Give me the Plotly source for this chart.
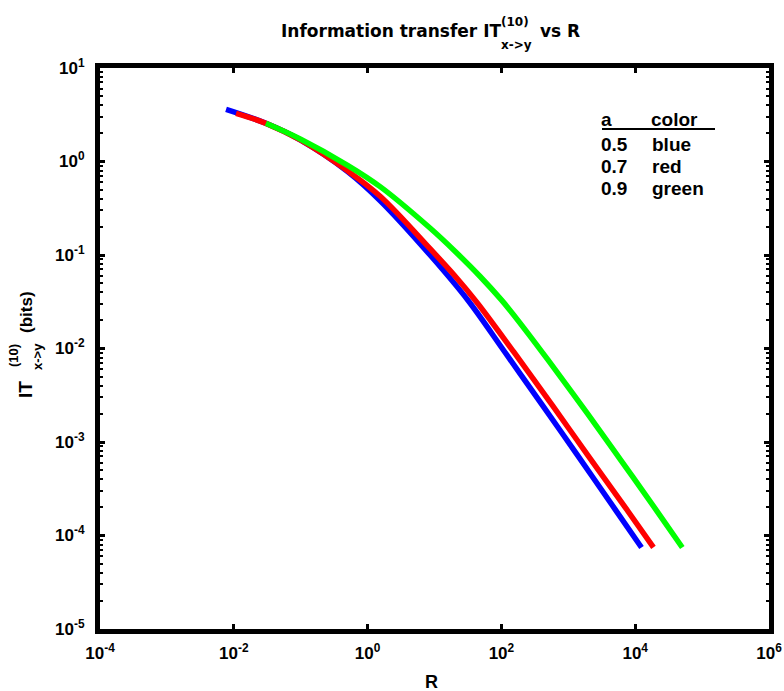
import plotly.graph_objects as go

# Information transfer curves for three values of the parameter a
a_values = [0.5, 0.7, 0.9]
color_names = ["blue", "red", "green"]
line_colors = ["#0000FF", "#FF0000", "#00FF00"]

R_a05 = [0.00766, 0.0302, 0.1, 0.502, 1.556, 8.65, 31.8, 113, 417, 1337, 4920, 12420]
IT_a05 = [3.61, 2.56, 1.69, 0.780, 0.378, 0.0993, 0.0326, 0.00912, 0.00243, 0.000741, 0.000194, 0.0000745]

R_a07 = [0.0108, 0.0302, 0.1, 0.502, 1.556, 8.65, 19.95, 43.4, 154, 586, 1950, 7413, 18750]
IT_a07 = [3.27, 2.56, 1.69, 0.794, 0.422, 0.116, 0.0603, 0.0309, 0.00912, 0.00243, 0.000724, 0.000191, 0.0000745]

R_a09 = [0.0302, 0.1, 0.502, 1.556, 8.65, 20.4, 48.1, 100, 134, 251, 494, 1950, 6470, 20750, 50600]
IT_a09 = [2.56, 1.73, 0.910, 0.535, 0.193, 0.109, 0.0589, 0.0331, 0.0257, 0.01445, 0.00759, 0.002, 0.000603, 0.000186, 0.0000745]

x_tick_exps = [-4, -2, 0, 2, 4, 6]
y_tick_exps = [-5, -4, -3, -2, -1, 0, 1]

series = [(R_a05, IT_a05), (R_a07, IT_a07), (R_a09, IT_a09)]

# canvas and plot-area geometry (pixels)
W, H = 784, 691
ML, MR, MT, MB = 100, 15, 68, 62
PW, PH = W - ML - MR, H - MT - MB
FONT = "Liberation Sans, Arial, sans-serif"
TFONT = "DejaVu Sans, Verdana, sans-serif"


def px(x):
    return (x - ML) / PW


def py(y):
    return (H - MB - y) / PH


fig = go.Figure()
for (r, it), col in zip(series, line_colors):
    fig.add_trace(go.Scatter(x=r, y=it, mode="lines",
                             line=dict(color=col, width=5.5, shape="spline", smoothing=1.0),
                             showlegend=False, hoverinfo="skip"))

axis_common = dict(
    type="log", showgrid=False, zeroline=False, automargin=False,
    showline=True, linecolor="black", linewidth=5, mirror="allticks",
    ticks="inside", tickcolor="black", tickwidth=3, ticklen=5,
    tickfont=dict(family=FONT, size=17, color="black"),
)

fig.update_xaxes(
    range=[-4, 6], tickmode="array",
    tickvals=[10.0 ** e for e in x_tick_exps],
    ticktext=[f"<b>10<sup>{e}</sup></b>" for e in x_tick_exps],
    ticklabelstandoff=5,
    **axis_common,
)
fig.update_yaxes(
    range=[-5, 1], tickmode="array",
    tickvals=[10.0 ** e for e in y_tick_exps],
    ticktext=[f"<b>10<sup>{e}</sup></b>" for e in y_tick_exps],
    ticklabelstandoff=7,
    minor=dict(ticks="inside", ticklen=3, tickwidth=2, tickcolor="black",
               dtick="D1", showgrid=False),
    **axis_common,
)

ann = []


def text(x, y, s, size=17, xanchor="center", angle=0, family=FONT):
    ann.append(dict(x=px(x), y=py(y), xref="paper", yref="paper",
                    text=s, showarrow=False, xanchor=xanchor, yanchor="middle",
                    textangle=angle,
                    font=dict(family=family, size=size, color="black")))


# title with stacked super/subscript
text(279, 31, "<b>Information transfer IT</b>", 17, "left", family=TFONT)
text(499, 22, "<b>(10)</b>", 12, "left", family=TFONT)
text(499, 45, "<b>x->y</b>", 12, "left", family=TFONT)
text(538, 31, "<b>vs R</b>", 17, "left", family=TFONT)

# y-axis title, rotated
text(25, 390, "<b>IT</b>", 19, "center", -90)
text(13, 356, "<b>(10)</b>", 13, "center", -90)
text(37, 357, "<b>x->y</b>", 13, "center", -90)
text(26, 312, "<b>(bits)</b>", 17, "center", -90)

# x-axis title
text(431, 682, "<b>R</b>", 18)

# parameter table
text(599, 119, "<b>a</b>", 19, "left")
text(649, 119, "<b>color</b>", 19, "left")
for i, (a, name) in enumerate(zip(a_values, color_names)):
    yrow = 145 + i * 21.5
    text(599, yrow, f"<b>{a}</b>", 19, "left")
    text(650, yrow, f"<b>{name}</b>", 19, "left")

fig.update_layout(
    width=W, height=H,
    margin=dict(l=ML, r=MR, t=MT, b=MB, autoexpand=False),
    paper_bgcolor="white", plot_bgcolor="white",
    annotations=ann,
    shapes=[dict(type="line", xref="paper", yref="paper",
                 x0=px(602), x1=px(715), y0=py(129), y1=py(129),
                 line=dict(color="black", width=2))],
)

fig.write_html("out.html")
